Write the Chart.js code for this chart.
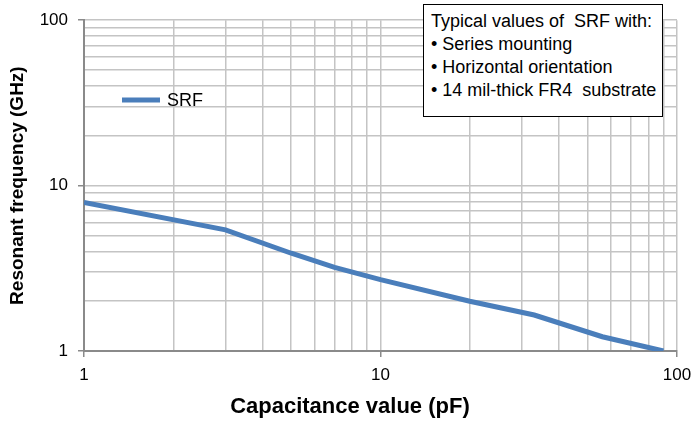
<!DOCTYPE html>
<html lang="en">
<head>
<meta charset="UTF-8">
<title>SRF vs capacitance</title>
<script src="https://cdn.jsdelivr.net/npm/chart.js@4.4.1/dist/chart.umd.min.js"></script>
<style>
  html, body { margin: 0; padding: 0; background: #fff; }
  .wrap { position: relative; width: 691px; height: 423px; }
  .note {
    position: absolute; left: 423px; top: 4px; width: 240px; height: 113px;
    border: 1.5px solid #000; background: #fff; box-sizing: border-box;
    font: 18px "Liberation Sans", Arial, sans-serif; line-height: 23px;
    padding: 5px 0 0 7px; color: #000; white-space: nowrap;
  }
</style>
</head>
<body>
<div class="wrap">
  <canvas id="srfChart" width="691" height="423"></canvas>
  <div class="note">Typical values of&nbsp; SRF with:<br>• Series mounting<br>• Horizontal orientation<br>• 14 mil-thick FR4&nbsp; substrate</div>
</div>
<script>
// data (log-log)
const capacitance = [1, 3, 5, 7, 10, 20, 33, 56, 90];
const srf = [7.9, 5.4, 3.9, 3.2, 2.7, 2.0, 1.65, 1.22, 1.0];

// gridline positions, 1..100 on both axes
const xTicks = [1, 2, 3, 4, 5, 6, 7, 8, 9, 10, 20, 30, 40, 50, 60, 70, 80, 90, 100];
const yTicks = [1, 2, 3, 4, 5, 6, 7, 8, 9, 10, 20, 30, 40, 50, 60, 70, 80, 90, 100];

const FONT = '"Liberation Sans", Arial, sans-serif';
Chart.defaults.font.family = FONT;
Chart.defaults.color = '#000';

const isDecade = v => Math.abs(Math.log10(v) - Math.round(Math.log10(v))) < 1e-9;

// legend sitting inside the plot, like the original
const insideLegend = {
  id: 'insideLegend',
  afterDatasetsDraw(chart) {
    const ds = chart.data.datasets[0];
    const c = chart.ctx;
    c.save();
    c.strokeStyle = ds.borderColor;
    c.lineWidth = 5;
    c.beginPath();
    c.moveTo(122, 100);
    c.lineTo(160, 100);
    c.stroke();
    c.fillStyle = '#000';
    c.font = '18px ' + FONT;
    c.textBaseline = 'middle';
    c.fillText(ds.label, 167, 101);
    c.restore();
  }
};

function axis(ticksList, tickPad, extra) {
  return Object.assign({
    type: 'logarithmic',
    min: 1,
    max: 100,
    afterBuildTicks: s => { s.ticks = ticksList.map(v => ({ value: v })); },
    border: { color: '#8a8a8a', width: 2 },
    grid: {
      color: '#c4c4c4',
      lineWidth: 1.5,
      tickLength: 6,
      tickColor: ctx => (ctx.tick && isDecade(ctx.tick.value)) ? '#8a8a8a' : 'rgba(0,0,0,0)'
    },
    ticks: {
      autoSkip: false,
      maxRotation: 0,
      padding: tickPad,
      font: { size: 17 },
      callback: v => isDecade(v) ? String(v) : ''
    }
  }, extra);
}

const ctx = document.getElementById('srfChart').getContext('2d');
new Chart(ctx, {
  type: 'scatter',
  data: {
    datasets: [{
      label: 'SRF',
      data: capacitance.map((c, i) => ({ x: c, y: srf[i] })),
      showLine: true,
      borderColor: '#4a7ebb',
      backgroundColor: '#4a7ebb',
      borderWidth: 5,
      pointRadius: 0,
      tension: 0
    }]
  },
  options: {
    responsive: false,
    animation: false,
    layout: { padding: { top: 20, right: 14, left: 0, bottom: 0 } },
    plugins: { legend: { display: false }, tooltip: { enabled: false } },
    scales: {
      x: axis(xTicks, 8, {
        afterFit: s => { s.height = 72; s.paddingRight = 0; },
        title: {
          display: true,
          // trailing spaces pull the centred title left, as in the original
          text: 'Capacitance value (pF)' + '\u00a0'.repeat(10),
          font: { size: 22, weight: 'bold' },
          padding: { top: 0, bottom: 3 }
        }
      }),
      y: axis(yTicks, 10, {
        afterFit: s => { s.width = 84; },
        title: {
          display: true,
          text: 'Resonant frequency (GHz)',
          font: { size: 19, weight: 'bold' },
          padding: { top: 6, bottom: 0 }
        }
      })
    }
  },
  plugins: [insideLegend]
});
</script>
</body>
</html>
